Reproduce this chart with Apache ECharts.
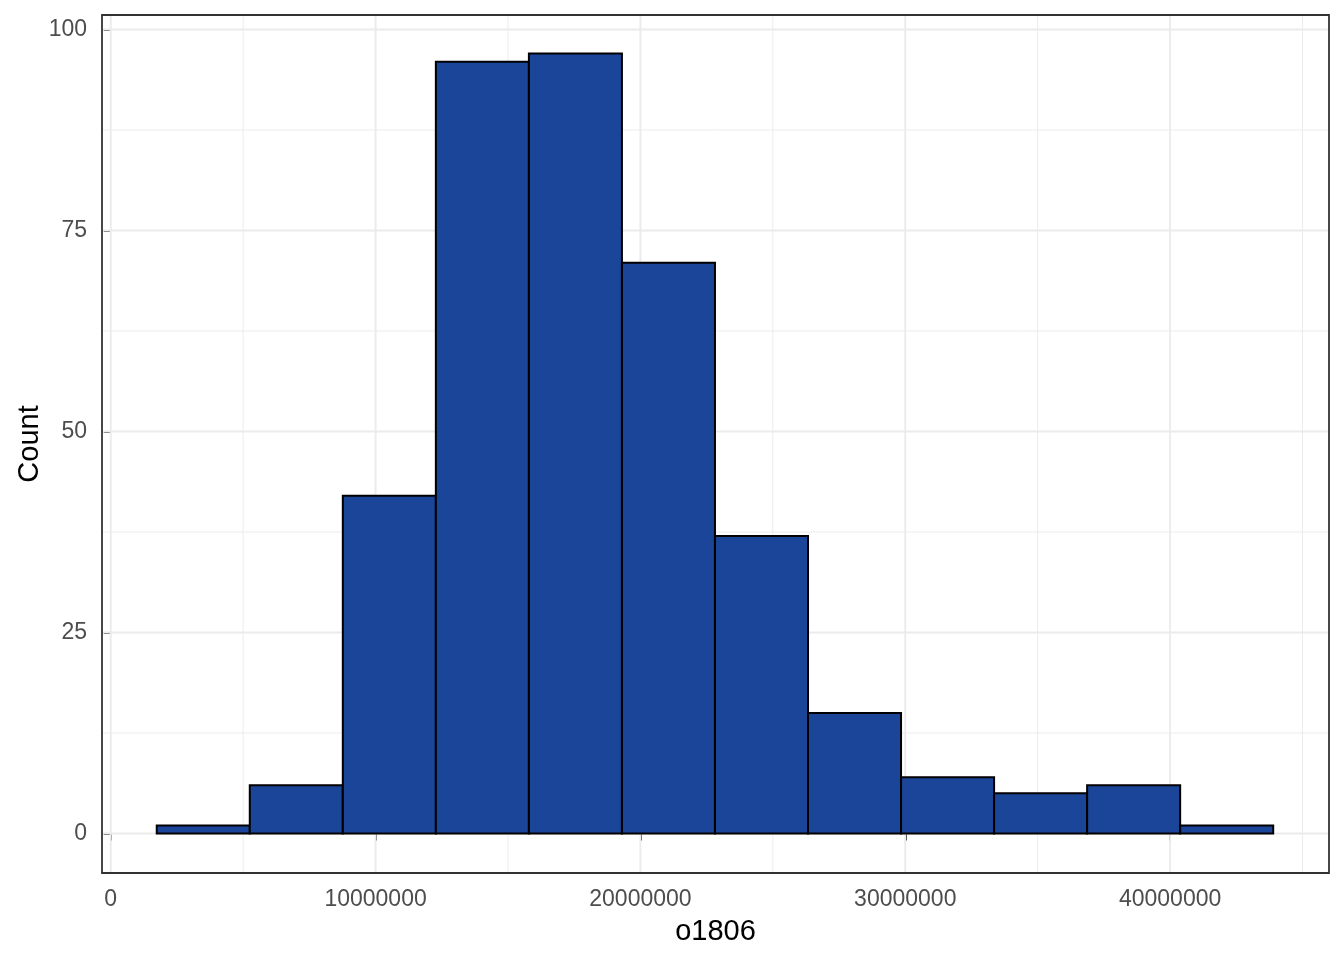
<!DOCTYPE html>
<html>
<head>
<meta charset="utf-8">
<script src="https://cdn.jsdelivr.net/npm/echarts@6/dist/echarts.min.js"></script>
<style>
html,body{margin:0;padding:0;background:#fff;}
#chart{width:1344px;height:960px;}
</style>
</head>
<body>
<div id="chart"></div>
<script>
// Histogram of o1806: bin edges and counts
const binEdges = [1737000, 5250000, 8763000, 12276000, 15789000, 19302000, 22815000, 26328000, 29841000, 33354000, 36867000, 40380000, 43893000];
const counts = [1, 6, 42, 96, 97, 71, 37, 15, 7, 5, 6, 1];
const xTicks = [0, 10000000, 20000000, 30000000, 40000000];
const xMinor = [5000000, 15000000, 25000000, 35000000, 45000000];
const yTicks = [0, 25, 50, 75, 100];
const yMinor = [12.5, 37.5, 62.5, 87.5];
const xTitle = 'o1806';
const yTitle = 'Count';

const barData = counts.map((c, i) => [binEdges[i], binEdges[i + 1], c]);
const gridData = [];
xTicks.forEach(v => gridData.push([0, v, 1]));
xMinor.forEach(v => gridData.push([0, v, 0]));
yTicks.forEach(v => gridData.push([1, v, 1]));
yMinor.forEach(v => gridData.push([1, v, 0]));

const FONT = '"Liberation Sans", Arial, sans-serif';
const chart = echarts.init(document.getElementById('chart'), null, {renderer: 'canvas'});

chart.setOption({
  backgroundColor: '#ffffff',
  animation: false,
  grid: {
    left: 102, right: 15, top: 15, bottom: 87,
    show: true, borderColor: '#333333', borderWidth: 1.8, backgroundColor: 'transparent', z: 10
  },
  xAxis: {
    type: 'value',
    min: -330000, max: 46000000,
    name: xTitle, nameLocation: 'middle', nameGap: 44, nameMoveOverlap: false,
    nameTextStyle: {color: '#000000', fontSize: 29, fontFamily: FONT},
    axisLine: {show: false},
    splitLine: {show: false},
    axisTick: {show: true, customValues: xTicks, length: 7, lineStyle: {color: '#333333', width: 2}},
    axisLabel: {customValues: xTicks, color: '#4D4D4D', fontSize: 23, fontFamily: FONT, margin: 15,
      formatter: v => String(Math.round(v))}
  },
  yAxis: {
    type: 'value',
    min: -4.91, max: 101.8,
    name: yTitle, nameLocation: 'middle', nameGap: 58, nameMoveOverlap: false,
    nameTextStyle: {color: '#000000', fontSize: 29, fontFamily: FONT},
    axisLine: {show: false},
    splitLine: {show: false},
    axisTick: {show: true, customValues: yTicks, length: 7, lineStyle: {color: '#333333', width: 2}},
    axisLabel: {customValues: yTicks, color: '#4D4D4D', fontSize: 23, fontFamily: FONT, margin: 15}
  },
  series: [
    {
      type: 'custom',
      z: 1,
      silent: true,
      data: gridData,
      encode: {x: 1},
      renderItem: function (params, api) {
        const cs = params.coordSys;
        const isX = api.value(0) === 0;
        const v = api.value(1);
        const major = api.value(2) === 1;
        let shape;
        if (isX) {
          const p = api.coord([v, 0]);
          shape = {x1: p[0], y1: cs.y, x2: p[0], y2: cs.y + cs.height};
        } else {
          const p = api.coord([0, v]);
          shape = {x1: cs.x, y1: p[1], x2: cs.x + cs.width, y2: p[1]};
        }
        return {
          type: 'line',
          shape: shape,
          style: {stroke: '#EBEBEB', lineWidth: major ? 1.9 : 0.95}
        };
      }
    },
    {
      type: 'custom',
      z: 2,
      data: barData,
      encode: {x: [0, 1], y: 2},
      renderItem: function (params, api) {
        const p0 = api.coord([api.value(0), 0]);
        const p1 = api.coord([api.value(1), api.value(2)]);
        return {
          type: 'rect',
          shape: {x: p0[0], y: p1[1], width: p1[0] - p0[0], height: p0[1] - p1[1]},
          style: {fill: '#1A4599', stroke: '#000000', lineWidth: 2}
        };
      }
    }
  ]
});
</script>
</body>
</html>
